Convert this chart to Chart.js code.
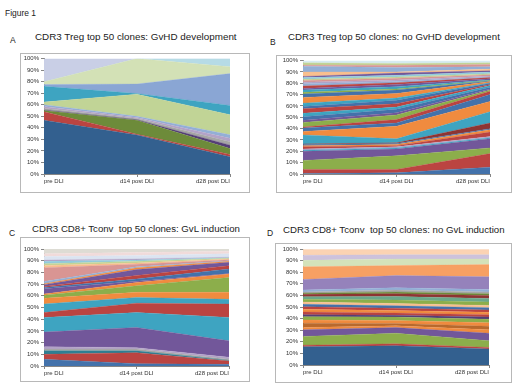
<!DOCTYPE html>
<html>
<head>
<meta charset="utf-8">
<script src="https://cdn.jsdelivr.net/npm/chart.js@4.4.1/dist/chart.umd.min.js"></script>
<style>
  body { margin: 0; background: #fff; width: 520px; height: 389px; position: relative; overflow: hidden;
         font-family: "Liberation Sans", Arial, sans-serif; color: #222; }
  .txt { position: absolute; white-space: pre; line-height: 1; }
  .box { position: absolute; border: 1px solid #b8b8b8; box-sizing: border-box; }
  canvas { position: absolute; }
</style>
</head>
<body>
<div class="txt" data-x="5" data-base="16" data-w="31" data-fs="9">Figure 1</div>

<div class="txt" data-x="10" data-base="43" data-fs="8.5">A</div>
<div class="txt" data-x="35" data-base="40" data-w="202" data-fs="10">CDR3 Treg top 50 clones: GvHD development</div>
<div class="txt" data-x="270" data-base="45" data-fs="8.5">B</div>
<div class="txt" data-x="288" data-base="40" data-w="212" data-fs="10">CDR3 Treg top 50 clones: no GvHD development</div>
<div class="txt" data-x="9" data-base="236" data-fs="8.5">C</div>
<div class="txt" data-x="32" data-base="232" data-w="208" data-fs="10">CDR3 CD8+ Tconv  top 50 clones: GvL induction</div>
<div class="txt" data-x="267" data-base="236" data-fs="8.5">D</div>
<div class="txt" data-x="283" data-base="233" data-w="222" data-fs="10">CDR3 CD8+ Tconv  top 50 clones: no GvL induction</div>

<div class="box" style="left:20px;top:53px;width:230px;height:140px;"></div>
<div class="box" style="left:276px;top:55px;width:236px;height:138px;"></div>
<div class="box" style="left:20px;top:237px;width:230px;height:145px;"></div>
<div class="box" style="left:275px;top:243px;width:237px;height:140px;"></div>

<canvas id="chartA" width="230" height="140" style="left:20px;top:53px;"></canvas>
<canvas id="chartB" width="236" height="138" style="left:276px;top:55px;"></canvas>
<canvas id="chartC" width="230" height="145" style="left:20px;top:237px;"></canvas>
<canvas id="chartD" width="237" height="140" style="left:275px;top:243px;"></canvas>

<script>
// time points
const timepoints = ['pre DLI', 'd14 post DLI', 'd28 post DLI'];
const yTicks = [0, 10, 20, 30, 40, 50, 60, 70, 80, 90, 100];

// A: Treg, GvHD development (clone share in %, bottom clone first)
const aPre = [46.6, 7.4, 1, 0.5, 1.5, 1.5, 1.5, 2.3, 13.7, 1.5, 2.5, 0, 20];
const aD14 = [33.7, 0.8, 12, 0.5, 1, 1, 1, 19.2, 0.5, 8.3, 22, 0, 0];
const aD28 = [15, 2, 5, 3, 3, 3, 3, 17.4, 8, 27.6, 6, 7, 0];

// B: Treg, no GvHD development
const bPre = [0.5, 3.5, 8, 8, 1, 1, 2, 1, 1, 0.5, 8, 3, 3, 1, 4, 2, 3, 3, 4, 2, 3, 5, 3, 1.5, 2, 1.5, 2, 2, 1.5, 1.5, 1, 1.5, 1, 4, 5, 1, 2, 2];
const bD14 = [1, 3, 12, 6, 1, 1, 1, 1, 1, 0.5, 3.5, 11, 3, 3, 4, 2, 3, 2, 3, 3, 2, 4, 3, 1, 2, 2, 1.5, 1, 1.5, 1.5, 1, 1.5, 2, 1, 4, 2, 1.5, 2.5];
const bD28 = [6, 12, 5, 8, 1, 1, 4, 2, 1, 5, 10, 9, 6, 3, 1, 1, 1.5, 1.5, 1, 1, 0.5, 1, 0.5, 0.5, 0.5, 1, 1, 0.5, 1, 1, 1, 1.5, 1, 1.5, 2, 2, 1.5, 2];

// C: CD8+ Tconv, GvL induction
const cPre = [5.7, 4.3, 3, 1.5, 2, 12.5, 12.4, 4.3, 7.3, 5, 2.5, 1, 4.5, 1, 1, 1.5, 0.8, 2, 11.7, 2, 1.5, 2, 1, 3, 2.5, 4];
const cD14 = [2, 9.4, 1.6, 1.5, 1.2, 17.3, 12.7, 8, 4.9, 4.4, 5.6, 2.8, 1, 2, 3, 5, 1.5, 1, 2.1, 1, 1.5, 1, 1, 3, 2.5, 3];
const cD28 = [1.4, 2.9, 0.5, 1, 1.7, 14, 20, 11.4, 4.1, 6, 12.7, 2.9, 0.5, 3.8, 2.8, 2.9, 0.9, 0.5, 0.8, 0.7, 0.5, 0.5, 0.5, 3, 2, 2];

// D: CD8+ Tconv, no GvL induction
const dPre = [15.7, 1.4, 7.5, 5.7, 2, 3.7, 2.9, 2.8, 1.7, 2.3, 2.3, 2.3, 2, 2, 2.3, 2.3, 2, 1, 1, 1.7, 9.1, 10.9, 5.7, 4.3, 4.8, 0.6];
const dD14 = [16.6, 1.7, 9.1, 4.9, 1.5, 2, 2.5, 3, 1.5, 2, 2.2, 2, 2, 2, 3, 3, 2.5, 1.5, 1.6, 2, 10.5, 8.6, 5.7, 3.7, 4.3, 0.6];
const dD28 = [13.7, 1.4, 5.8, 6.5, 3, 3, 3, 3, 2, 2, 2, 2, 2, 2, 3, 3, 2.5, 1.5, 1.6, 2, 11, 10.6, 4.8, 3.7, 4.3, 0.6];

// office-style palette
const P = {
  blue: '#4372ab', red: '#bb4441', green: '#8cae4b', purple: '#72579a', aqua: '#3ea4c1', orange: '#f08b3f',
  dblue: '#33608f', dred: '#8e3432', dgreen: '#6d8b3a', dpurple: '#553f77', daqua: '#2f7f93', dorange: '#b8692d',
  lblue: '#93afd6', lred: '#d99593', lgreen: '#c1d496', lpurple: '#b3a3c8', laqua: '#92cbdc', lorange: '#f9bf8e',
  pblue: '#dbe4f1', pred: '#f1dbda', pgreen: '#e4ecd3', ppurple: '#dedbec', paqua: '#d6ecf3', porange: '#fbe3cf',
  grey: '#a6a6a6', pgrey: '#dedcd4'
};

const aColors = [P.dblue, P.red, P.dgreen, P.dpurple, P.grey, P.lpurple, P.lblue, P.lgreen, P.aqua, '#8aa6d4', '#d3e1b6', '#b6dbe6', '#c9cfe6'];
const bColors = [P.blue, P.red, P.green, P.purple, P.aqua, P.lpurple, P.red, P.orange, P.blue, P.dred, P.aqua, P.orange,
  P.blue, P.red, P.green, P.purple, P.blue, P.aqua, P.red, P.blue, P.aqua, P.orange, P.blue, P.green, P.aqua, P.purple,
  P.red, P.lblue, P.lpurple, P.lred, P.lgreen, P.laqua, P.purple, P.lorange, P.lblue, P.lred, P.lgreen, P.paqua];
const cColors = [P.blue, P.red, P.daqua, P.grey, P.lpurple, P.purple, P.aqua, P.red, P.aqua, P.orange, P.green, P.orange,
  P.purple, P.blue, P.red, P.purple, P.orange, P.lblue, P.lred, P.lorange, P.lgreen, P.laqua, P.lpurple, P.pblue, P.pred, P.pgrey];
const dColors = [P.dblue, P.red, P.green, P.purple, P.orange, P.dorange, P.orange, P.green, P.dpurple, P.red, P.orange,
  P.red, P.blue, P.lorange, P.green, '#6aa88a', P.dred, P.dgreen, P.grey, P.lblue, '#9582bb', '#f7a063', '#d4e2ba', '#cdc2dc', '#fbd3b3', P.porange];

// place the html text: fit to the measured width, sit on the baseline
document.querySelectorAll('.txt').forEach(el => {
  let fs = parseFloat(el.dataset.fs);
  el.style.fontSize = fs + 'px';
  if (el.dataset.w) {
    fs = fs * parseFloat(el.dataset.w) / el.getBoundingClientRect().width;
    el.style.fontSize = fs + 'px';
  }
  el.style.left = el.dataset.x + 'px';
  el.style.top = (parseFloat(el.dataset.base) - 0.85 * fs) + 'px';
});

function makeChart(id, pre, d14, d28, colors, box) {
  const cols = [pre, d14, d28];
  const sums = cols.map(c => c.reduce((s, v) => s + v, 0));
  const datasets = pre.map((v, i) => ({
    data: cols.map((c, k) => c[i] / sums[k] * 100),
    backgroundColor: colors[i],
    borderColor: colors[i],
    borderWidth: 0.3,
    pointRadius: 0,
    tension: 0,
    fill: i === 0 ? 'origin' : '-1'
  }));
  const tickFont = { family: 'Liberation Sans, Arial, sans-serif', size: 6 };
  new Chart(document.getElementById(id), {
    type: 'line',
    data: { labels: timepoints, datasets: datasets },
    options: {
      responsive: false,
      animation: false,
      devicePixelRatio: 1,
      layout: { padding: { left: 0, right: box.right, top: box.top, bottom: 0 } },
      plugins: { legend: { display: false }, tooltip: { enabled: false } },
      scales: {
        x: {
          grid: { drawOnChartArea: false, tickLength: 3, color: '#868686' },
          border: { color: '#868686' },
          ticks: { font: tickFont, color: '#333', maxRotation: 0, autoSkip: false, align: 'inner', padding: 1 },
          afterFit: s => { s.height = box.bottom; }
        },
        y: {
          stacked: true,
          min: 0, max: 100,
          afterBuildTicks: s => { s.ticks = yTicks.map(v => ({ value: v })); },
          grid: { drawOnChartArea: false, tickLength: 3, color: '#868686' },
          border: { color: '#868686' },
          ticks: { font: tickFont, color: '#333', padding: 2, callback: v => v + '%' },
          afterFit: s => { s.width = box.left; }
        }
      }
    }
  });
}

makeChart('chartA', aPre, aD14, aD28, aColors, { left: 24, right: 20, top: 5, bottom: 19 });
makeChart('chartB', bPre, bD14, bD28, bColors, { left: 27, right: 22, top: 3, bottom: 19 });
makeChart('chartC', cPre, cD14, cD28, cColors, { left: 24, right: 21, top: 12, bottom: 16 });
makeChart('chartD', dPre, dD14, dD28, dColors, { left: 28, right: 23, top: 6, bottom: 18 });
</script>
</body>
</html>
